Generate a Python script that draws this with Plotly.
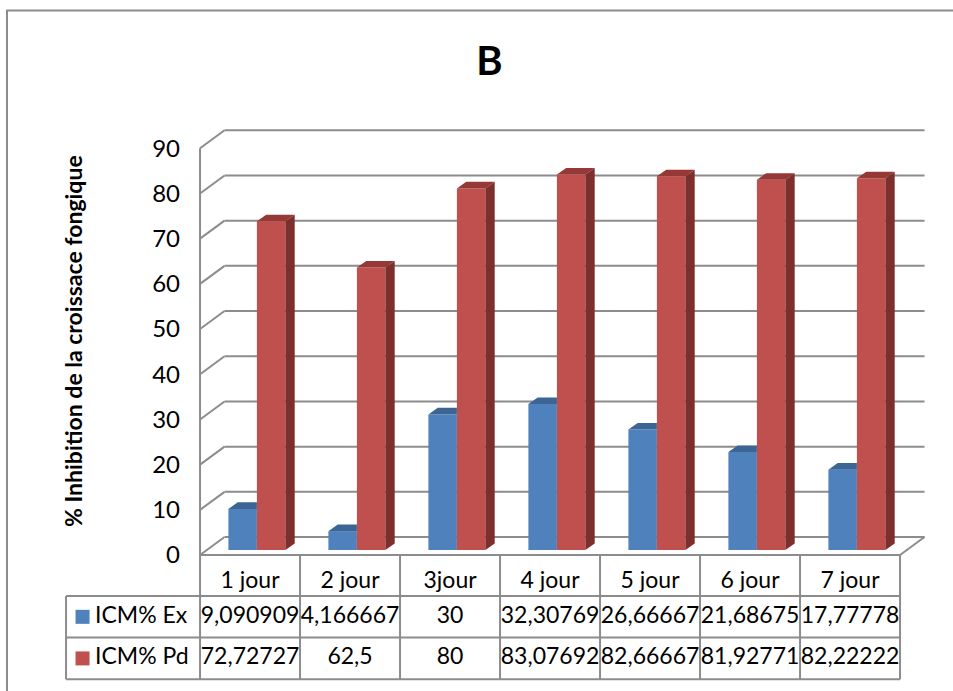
import plotly.graph_objects as go

# ---------------- data ----------------
categories = ["1 jour", "2 jour", "3jour", "4 jour", "5 jour", "6 jour", "7 jour"]
series_names = ["ICM% Ex", "ICM% Pd"]
ex_values = [9.090909, 4.166667, 30.0, 32.307692, 26.666667, 21.686747, 17.777778]
pd_values = [72.727273, 62.5, 80.0, 83.076923, 82.666667, 81.927711, 82.222222]
y_ticks = [0, 10, 20, 30, 40, 50, 60, 70, 80, 90]
title_text = "B"
y_title = "% Inhibition de la croissace fongique"

# ---------------- style ----------------
FONT = "Lato"
BLUE_FRONT, BLUE_TOP = "#4F81BD", "#3C6494"
RED_FRONT, RED_TOP, RED_SIDE = "#C0504D", "#953836", "#7D2F2E"
GRID = "#8C8C8C"

W, H = 953, 691
PX_PER_X, PX_PER_Y = 100.0, 4.52      # pixels per category / per percent
X0_PX, Y0_PX = 256.9, 550.0           # pixel location of (0, 0) in the bar plane
x_range = [-X0_PX / PX_PER_X, (W - X0_PX) / PX_PER_X]
y_range = [(Y0_PX - H) / PX_PER_Y, Y0_PX / PX_PER_Y]

# pseudo 3-D depth (data units)
DEPTH_X, DEPTH_Y, BAR_PLANE = 0.245, 3.98, 0.28
fdx, fdy = BAR_PLANE * DEPTH_X, BAR_PLANE * DEPTH_Y
bdx, bdy = (1 - BAR_PLANE) * DEPTH_X, (1 - BAR_PLANE) * DEPTH_Y
BAR_W, BAR_DX, BAR_DY = 0.285, 0.093, 1.45

n = len(categories)
xs = list(range(n))
left_f, right_f = -0.5 - fdx, n - 0.5 - fdx
left_b, right_b = -0.5 + bdx, n - 0.5 + bdx

shapes = []


def seg(x0, y0, x1, y1, color=GRID, width=2):
    shapes.append(dict(type="line", xref="x", yref="y", x0=x0, y0=y0, x1=x1, y1=y1,
                       line=dict(color=color, width=width), layer="below"))


# walls and floor
for t in y_ticks:
    seg(left_b, t + bdy, right_b, t + bdy)          # back wall grid line
    seg(left_f, t - fdy, left_b, t + bdy)           # side wall diagonal
seg(left_f, y_ticks[0] - fdy, left_f, y_ticks[-1] - fdy)  # front left edge
seg(right_f, -fdy, right_b, bdy)                    # floor right edge

# data table
TOP = -fdy
HEADER_H, ROW_H, LEGEND_W = 9.07, 9.2, 1.34
hdr_bottom = TOP - HEADER_H
row_bottoms = [hdr_bottom - ROW_H * (k + 1) for k in range(2)]
tbl_left = left_f - LEGEND_W
seg(left_f, TOP, right_f, TOP)
for yb in [hdr_bottom] + row_bottoms:
    seg(tbl_left, yb, right_f, yb)
for k in range(n + 1):
    seg(left_f + k, TOP, left_f + k, row_bottoms[-1])
seg(tbl_left, hdr_bottom, tbl_left, row_bottoms[-1])

fig = go.Figure()

# bars (front faces)
fig.add_trace(go.Bar(x=xs, y=ex_values, width=BAR_W, offset=-BAR_W, name=series_names[0],
                     marker=dict(color=BLUE_FRONT, line=dict(width=0))))
fig.add_trace(go.Bar(x=xs, y=pd_values, width=BAR_W, offset=0, name=series_names[1],
                     marker=dict(color=RED_FRONT, line=dict(width=0))))


def poly_trace(polys, color):
    px, py = [], []
    for p in polys:
        for (a, b) in p + [p[0]]:
            px.append(a)
            py.append(b)
        px.append(None)
        py.append(None)
    return go.Scatter(x=px, y=py, mode="lines", fill="toself", fillcolor=color,
                      line=dict(width=0, color=color), hoverinfo="skip", showlegend=False)


blue_tops, red_tops, red_sides = [], [], []
for i, (ve, vp) in enumerate(zip(ex_values, pd_values)):
    x0, x1 = i - BAR_W, i
    if vp >= ve:   # right part hidden behind the taller red bar
        blue_tops.append([(x0, ve), (x1, ve), (x1, ve + BAR_DY), (x0 + BAR_DX, ve + BAR_DY)])
    else:
        blue_tops.append([(x0, ve), (x1, ve), (x1 + BAR_DX, ve + BAR_DY), (x0 + BAR_DX, ve + BAR_DY)])
    r0, r1 = i, i + BAR_W
    red_tops.append([(r0, vp), (r1, vp), (r1 + BAR_DX, vp + BAR_DY), (r0 + BAR_DX, vp + BAR_DY)])
    red_sides.append([(r1, 0), (r1, vp), (r1 + BAR_DX, vp + BAR_DY), (r1 + BAR_DX, BAR_DY)])

fig.add_trace(poly_trace(blue_tops, BLUE_TOP))
fig.add_trace(poly_trace(red_tops, RED_TOP))
fig.add_trace(poly_trace(red_sides, RED_SIDE))


def fmt(v):
    return f"{v:.7g}".replace(".", ",")


txt_font = dict(family=FONT, size=23, color="black")
# header row
fig.add_trace(go.Scatter(x=[i - fdx for i in xs], y=[TOP - 5.97] * n, mode="text",
                         text=categories, textfont=txt_font, textposition="middle center",
                         hoverinfo="skip", showlegend=False, cliponaxis=False))
# value rows + legend keys
for k, (vals, name, col) in enumerate([(ex_values, series_names[0], BLUE_FRONT),
                                         (pd_values, series_names[1], RED_FRONT)]):
    yc = hdr_bottom - ROW_H * (k + 0.5)
    fig.add_trace(go.Scatter(x=[i - fdx for i in xs], y=[yc] * n, mode="text",
                             text=[fmt(v) for v in vals], textfont=txt_font,
                             textposition="middle center", hoverinfo="skip",
                             showlegend=False, cliponaxis=False))
    fig.add_trace(go.Scatter(x=[tbl_left + 0.165], y=[yc], mode="markers",
                             marker=dict(symbol="square", size=14, color=col),
                             hoverinfo="skip", showlegend=False, cliponaxis=False))
    fig.add_trace(go.Scatter(x=[tbl_left + 0.29], y=[yc], mode="text", text=[name],
                             textfont=txt_font, textposition="middle right",
                             hoverinfo="skip", showlegend=False, cliponaxis=False))

# chart border
shapes.append(dict(type="rect", xref="paper", yref="paper", x0=7 / W, x1=1.05,
                   y0=-0.05, y1=1 - 10.5 / H, line=dict(color="#8C8C8C", width=2),
                   layer="below"))

fig.update_layout(
    width=W, height=H, margin=dict(l=0, r=0, t=0, b=0), autosize=False,
    paper_bgcolor="white", plot_bgcolor="white", showlegend=False,
    barmode="overlay", shapes=shapes,
    title=dict(text="<b>" + title_text + "</b>", x=489.5 / W, y=1 - 61 / H,
               xanchor="center", yanchor="middle",
               font=dict(family=FONT, size=40, color="black")),
    xaxis=dict(range=x_range, visible=False, fixedrange=True),
    yaxis=dict(range=y_range, showgrid=False, zeroline=False, showline=False,
               tickmode="array", tickvals=[t - fdy for t in y_ticks],
               ticktext=[str(t) for t in y_ticks], ticks="", anchor="free",
               position=180 / W, tickfont=dict(family=FONT, size=24, color="black"),
               fixedrange=True),
    annotations=[dict(text="<b>" + y_title + "</b>", xref="paper", yref="paper",
                      x=73 / W, y=1 - 341 / H, textangle=-90, showarrow=False,
                      xanchor="center", yanchor="middle",
                      font=dict(family=FONT, size=23, color="black"))],
)

fig.write_html("out.html")
